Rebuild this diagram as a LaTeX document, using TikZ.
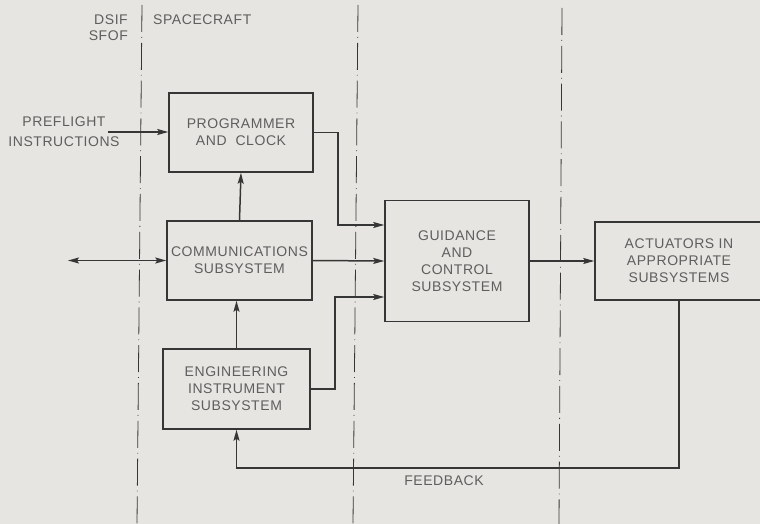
\documentclass[tikz,border=0pt]{standalone}
\usepackage{fontspec}
\setmainfont{Liberation Sans}[LetterSpace=4]
\usetikzlibrary{arrows.meta,calc}
\definecolor{bg}{HTML}{E7E5E1}
\definecolor{ink}{HTML}{363636}
\definecolor{txt}{HTML}{5E5E5E}
\tikzset{
  box/.style={draw=ink, line width=1.5pt, rectangle, inner sep=0pt, align=center, text=txt,
    font=\fontsize{14}{17}\selectfont},
  lbl/.style={text=txt, inner sep=0pt, align=center, font=\fontsize{14}{16}\selectfont},
  conn/.style={draw=ink, line width=1.5pt, -{Stealth[length=11pt,width=6pt,inset=2pt]}},
  bconn/.style={draw=ink, line width=1.5pt, {Stealth[length=11pt,width=6pt,inset=2pt]}-{Stealth[length=11pt,width=6pt,inset=2pt]}},
  divider/.style={draw=ink, line width=0.8pt, dash pattern=on 27pt off 5pt on 0.8pt off 5pt}
}
\begin{document}
\begin{tikzpicture}[x=1pt,y=-1pt]
\useasboundingbox (0,0) rectangle (760,524);
\fill[bg] (0,0) rectangle (760,524);

% dividers
\coordinate (d1t) at (142,5);  \coordinate (d1b) at (137,524);
\coordinate (d2t) at (358,5);  \coordinate (d2b) at (353,524);
\coordinate (d3t) at (562,8);  \coordinate (d3b) at (559,524);
\draw[divider] (d1t) -- (d1b);
\draw[divider] (d2t) -- (d2b);
\draw[divider] (d3t) -- (d3b);

% header labels
\node[lbl, anchor=east, align=right] (dsif) at (128,27.5) {DSIF\\SFOF};
\node[lbl, anchor=west] (sc) at (153,20) {SPACECRAFT};

% boxes
\node[box, minimum width=144pt, minimum height=79pt] (prog) at (241,132.5) {PROGRAMMER\\AND\ \ CLOCK};
\node[box, minimum width=145pt, minimum height=79pt] (comm) at (239.5,260.5) {COMMUNICATIONS\\SUBSYSTEM};
\node[box, minimum width=147pt, minimum height=80pt] (eng) at (236.5,389) {ENGINEERING\\INSTRUMENT\\SUBSYSTEM};
\node[box, minimum width=144pt, minimum height=121pt] (guid) at (457,261) {GUIDANCE\\AND\\CONTROL\\SUBSYSTEM};
\node[box, minimum width=168pt, minimum height=78pt] (act) at (679,261) {ACTUATORS IN\\APPROPRIATE\\SUBSYSTEMS};

% outside labels
\node[lbl, align=center, font=\fontsize{14}{20}\selectfont] (pre) at (64,132) {PREFLIGHT\\INSTRUCTIONS};
\node[lbl] (fb) at (444,481) {FEEDBACK};

% connector end points
\coordinate (pfin) at (108,132);
\coordinate (ext) at (68,260.5);
\coordinate (gin1) at ([yshift=36pt]guid.west);
\coordinate (gin3) at ([yshift=-36pt]guid.west);

% connectors
\draw[conn] (pfin) -- (prog.west |- pfin);
\draw[bconn] (ext) -- (comm.west);
\draw[conn] (comm.north) -- (prog.south);
\draw[conn] (eng.north) -- (eng.north |- comm.south);
\draw[conn] (prog.east) -- ++(24,0) |- (gin1);
\draw[conn] (comm.east) -- (guid.west);
\draw[conn] (eng.east) -- ++(24,0) |- (gin3);
\draw[conn] (guid.east) -- (act.west);
\draw[conn] (act.south) -- ++(0,167) -| (eng.south);
\end{tikzpicture}
\end{document}
